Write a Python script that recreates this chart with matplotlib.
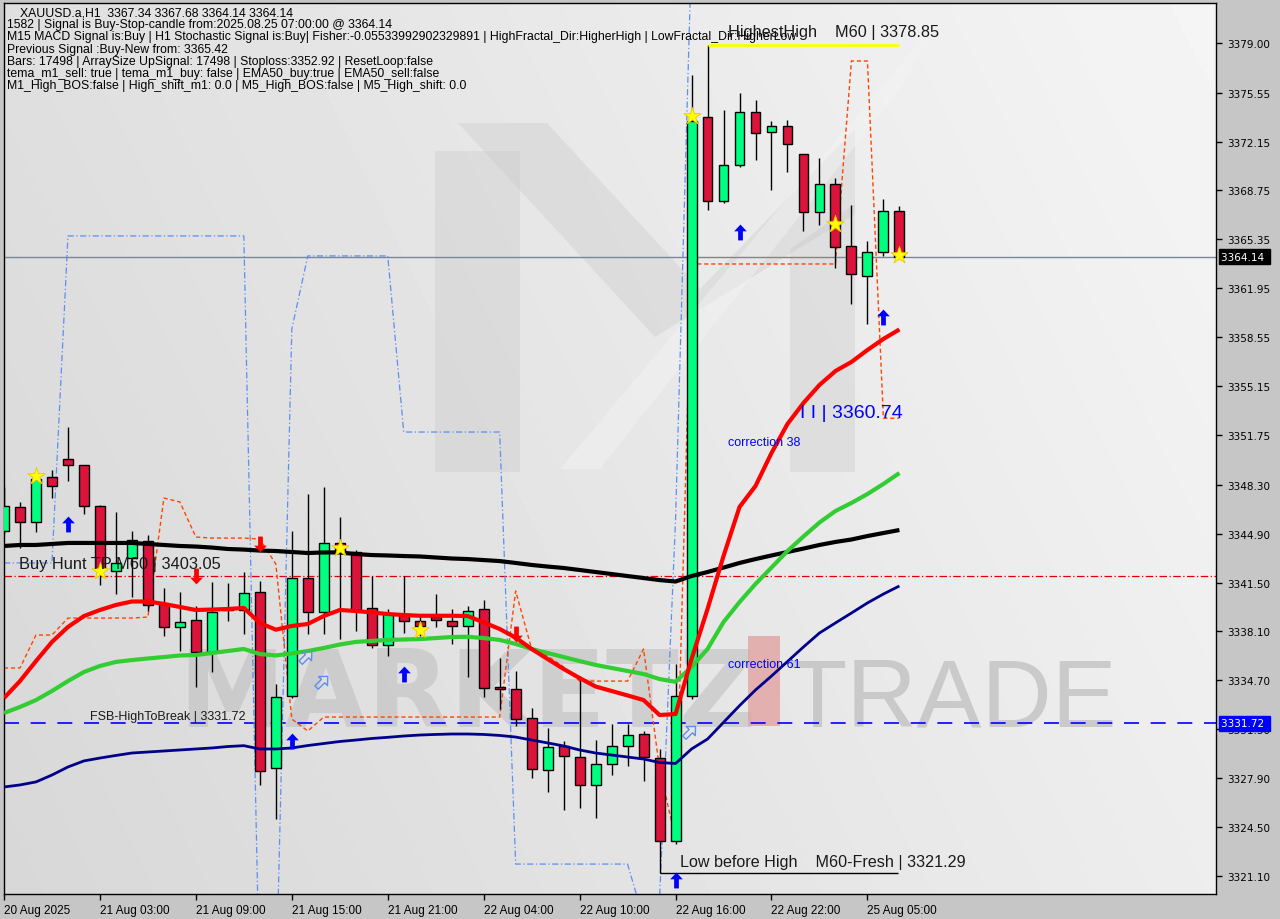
import matplotlib
matplotlib.use("Agg")
import matplotlib.pyplot as plt
from matplotlib.patches import Rectangle, Polygon
from matplotlib.transforms import blended_transform_factory
import numpy as np

# ---------------- data ----------------
opens = [3345.08, 3346.73, 3345.68, 3348.81, 3350.06, 3349.65, 3346.84, 3342.32, 3343.18, 3344.41,
         3340.01, 3338.40, 3338.89, 3336.65, 3339.62, 3339.59, 3340.82, 3328.58, 3333.59, 3341.79,
         3339.43, 3344.23, 3343.60, 3339.71, 3337.16, 3339.31, 3338.85, 3339.07, 3338.85, 3338.46,
         3339.66, 3334.22, 3334.10, 3332.06, 3328.47, 3330.16, 3329.35, 3327.43, 3328.89, 3330.16,
         3330.95, 3329.28, 3323.51, 3333.63, 3373.84, 3368.00, 3370.52, 3374.18, 3372.79, 3373.21,
         3371.26, 3367.23, 3369.18, 3364.87, 3362.78, 3364.45, 3367.34]
highs = [3348.14, 3347.10, 3349.00, 3349.32, 3352.29, 3349.67, 3346.90, 3346.42, 3345.06, 3344.80,
         3341.12, 3340.82, 3339.89, 3341.51, 3341.47, 3342.21, 3341.59, 3334.45, 3345.06, 3347.65,
         3348.12, 3346.03, 3343.76, 3341.97, 3339.66, 3341.97, 3339.20, 3340.70, 3339.66, 3339.89,
         3340.28, 3336.25, 3335.33, 3332.76, 3331.39, 3330.46, 3334.98, 3330.55, 3331.67, 3331.67,
         3331.16, 3329.93, 3335.84, 3376.78, 3378.85, 3374.34, 3375.52, 3375.04, 3373.60, 3373.65,
         3371.30, 3371.00, 3369.62, 3367.74, 3365.22, 3368.16, 3367.68]
lows = [3344.87, 3343.90, 3345.03, 3347.37, 3348.58, 3346.26, 3341.35, 3340.70, 3340.50, 3339.52,
        3337.80, 3336.76, 3334.22, 3335.30, 3338.85, 3337.92, 3327.45, 3325.06, 3333.50, 3337.90,
        3337.90, 3337.57, 3338.15, 3336.93, 3336.41, 3337.99, 3337.80, 3338.39, 3337.25, 3334.91,
        3333.52, 3332.71, 3331.51, 3327.89, 3326.92, 3325.71, 3325.81, 3325.11, 3328.14, 3328.77,
        3327.72, 3321.29, 3323.32, 3333.40, 3367.41, 3367.86, 3370.36, 3370.89, 3368.80, 3370.05,
        3365.95, 3366.37, 3363.34, 3360.86, 3359.47, 3364.22, 3364.14]
closes = [3346.82, 3345.68, 3348.69, 3348.19, 3349.65, 3346.84, 3342.37, 3342.84, 3344.48, 3339.94,
          3338.40, 3338.78, 3336.65, 3339.47, 3339.58, 3340.77, 3328.42, 3333.52, 3341.79, 3339.43,
          3344.23, 3343.60, 3339.61, 3337.16, 3339.31, 3338.85, 3338.50, 3338.88, 3338.46, 3339.50,
          3334.15, 3334.08, 3332.01, 3328.54, 3330.05, 3329.42, 3327.43, 3328.89, 3330.16, 3330.90,
          3329.35, 3323.51, 3333.63, 3373.60, 3368.00, 3370.52, 3374.18, 3372.72, 3373.21, 3371.96,
          3367.23, 3369.18, 3364.80, 3362.92, 3364.45, 3367.30, 3364.14]

ma_red = [3333.47, 3334.65, 3336.04, 3337.37, 3338.41, 3339.17, 3339.59, 3339.94, 3340.18, 3340.18,
          3340.01, 3339.80, 3339.59, 3339.62, 3339.66, 3339.73, 3338.69, 3338.22, 3338.48, 3338.62,
          3339.17, 3339.59, 3339.52, 3339.42, 3339.31, 3339.24, 3339.19, 3339.19, 3339.19, 3339.17,
          3338.73, 3338.27, 3337.67, 3336.88, 3336.18, 3335.49, 3334.86, 3334.27, 3333.96, 3333.65,
          3333.33, 3332.29, 3332.36, 3336.18, 3339.66, 3343.34, 3346.75, 3348.21, 3350.50, 3352.52,
          3353.98, 3355.23, 3356.20, 3356.83, 3357.66, 3358.43, 3359.09]
ma_green = [3332.43, 3332.85, 3333.33, 3333.96, 3334.65, 3335.28, 3335.70, 3335.98, 3336.11, 3336.22,
            3336.32, 3336.43, 3336.46, 3336.60, 3336.74, 3336.88, 3336.53, 3336.43, 3336.57, 3336.74,
            3336.95, 3337.19, 3337.37, 3337.44, 3337.51, 3337.54, 3337.57, 3337.64, 3337.71, 3337.73,
            3337.64, 3337.51, 3337.23, 3336.88, 3336.60, 3336.32, 3336.04, 3335.77, 3335.56, 3335.35,
            3335.14, 3334.79, 3334.60, 3335.63, 3336.88, 3338.75, 3340.14, 3341.40, 3342.54, 3343.69,
            3344.70, 3345.67, 3346.47, 3347.03, 3347.65, 3348.35, 3349.11]
ma_black = [3344.04, 3344.11, 3344.11, 3344.18, 3344.25, 3344.25, 3344.25, 3344.25, 3344.25, 3344.18,
            3344.11, 3344.04, 3344.00, 3343.93, 3343.83, 3343.79, 3343.72, 3343.69, 3343.62, 3343.55,
            3343.59, 3343.59, 3343.48, 3343.41, 3343.38, 3343.34, 3343.31, 3343.24, 3343.17, 3343.13,
            3343.06, 3342.99, 3342.86, 3342.72, 3342.61, 3342.51, 3342.37, 3342.23, 3342.09, 3341.95,
            3341.81, 3341.67, 3341.57, 3341.95, 3342.23, 3342.54, 3342.86, 3343.13, 3343.38, 3343.62,
            3343.86, 3344.11, 3344.32, 3344.49, 3344.73, 3344.94, 3345.15]
ma_navy = [3327.29, 3327.43, 3327.64, 3328.12, 3328.68, 3329.10, 3329.30, 3329.48, 3329.65, 3329.72,
           3329.79, 3329.86, 3329.93, 3330.00, 3330.10, 3330.16, 3329.93, 3329.93, 3330.00, 3330.17,
           3330.31, 3330.45, 3330.55, 3330.66, 3330.74, 3330.83, 3330.90, 3330.94, 3330.97, 3330.97,
           3330.94, 3330.87, 3330.76, 3330.55, 3330.35, 3330.14, 3329.86, 3329.65, 3329.51, 3329.37,
           3329.23, 3328.99, 3328.92, 3329.93, 3330.62, 3331.78, 3332.94, 3334.03, 3335.00, 3336.01,
           3337.02, 3337.99, 3338.69, 3339.38, 3340.08, 3340.70, 3341.26]
stop_line = [3335.56, 3335.56, 3337.85, 3337.85, 3339.03, 3339.03, 3339.03, 3339.03, 3339.03, 3339.10,
             3347.37, 3347.10, 3344.66, 3344.59, 3344.59, 3344.59, 3344.52, 3342.79, 3332.01, 3331.18,
             3332.15, 3332.15, 3332.15, 3332.15, 3332.15, 3332.15, 3332.15, 3332.15, 3332.15, 3332.15,
             3332.15, 3332.15, 3340.91, 3336.88, 3336.39, 3335.63, 3334.65, 3334.65, 3334.65, 3334.65,
             3336.88, 3328.54, 3323.67, 3363.64, 3363.64, 3363.64, 3363.64, 3363.64, 3363.64, 3363.64,
             3363.64, 3363.64, 3363.64, 3377.75, 3377.75, 3352.92, 3352.92]
band_line = [3342.86, 3342.86, 3342.86, 3342.86, 3365.59, 3365.59, 3365.59, 3365.59, 3365.59, 3365.59,
             3365.59, 3365.59, 3365.59, 3365.59, 3365.59, 3365.59, 3312.55, 3312.55, 3359.12, 3364.20,
             3364.20, 3364.20, 3364.20, 3364.20, 3364.20, 3351.96, 3351.96, 3351.96, 3351.96, 3351.96,
             3351.96, 3351.96, 3321.93, 3321.93, 3321.93, 3321.93, 3321.93, 3321.93, 3321.93, 3321.93,
             3318.11, 3319.50, 3345.91, 3385.53, 3385.53, 3385.53, 3385.53, 3385.53, 3385.53, 3385.53,
             3385.53, 3385.53, 3385.53, 3385.53, 3385.53, 3385.53, 3385.53]

star_bars = [2, 6, 21, 26, 43, 52, 56]
star_prices = [3348.90, 3342.30, 3343.90, 3338.20, 3373.93, 3366.42, 3364.26]
up_bars = [4, 18, 25, 42, 46, 55]
up_prices = [3345.57, 3330.48, 3335.14, 3320.82, 3365.86, 3359.96]
down_bars = [12, 16, 32]
down_prices = [3341.95, 3344.18, 3337.92]
hollow_bars = [18.9, 19.9, 42.9]
hollow_prices = [3336.32, 3334.59, 3331.11]

time_pos = [0, 6, 12, 18, 24, 30, 36, 42, 48, 54]
time_labels = ["20 Aug 2025", "21 Aug 03:00", "21 Aug 09:00", "21 Aug 15:00", "21 Aug 21:00",
               "22 Aug 04:00", "22 Aug 10:00", "22 Aug 16:00", "22 Aug 22:00", "25 Aug 05:00"]
price_ticks = [3379.00, 3375.55, 3372.15, 3368.75, 3365.35, 3361.95, 3358.55, 3355.15, 3351.75,
               3348.30, 3344.90, 3341.50, 3338.10, 3334.70, 3331.30, 3327.90, 3324.50, 3321.10]

current_price = 3364.14
fsb_level = 3331.72
tp_level = 3341.95
highest_high = 3378.85
low_before_high = 3321.29

header_lines = [
    "XAUUSD.a,H1  3367.34 3367.68 3364.14 3364.14",
    "1582 | Signal is Buy-Stop-candle from:2025.08.25 07:00:00 @ 3364.14",
    "M15 MACD Signal is:Buy | H1 Stochastic Signal is:Buy| Fisher:-0.05533992902329891 | HighFractal_Dir:HigherHigh | LowFractal_Dir:HigherLow",
    "Previous Signal :Buy-New from: 3365.42",
    "Bars: 17498 | ArraySize UpSignal: 17498 | Stoploss:3352.92 | ResetLoop:false",
    "tema_m1_sell: true | tema_m1_buy: false | EMA50_buy:true | EMA50_sell:false",
    "M1_High_BOS:false | High_shift_m1: 0.0 | M5_High_BOS:false | M5_High_shift: 0.0",
]

# ---------------- figure ----------------
W, H = 1280, 920
AX_L, AX_R, AX_T, AX_B = 4, 1216, 4, 895
FONT = "Liberation Sans"

fig = plt.figure(figsize=(12.8, 9.2), dpi=100)
fig.patch.set_facecolor("#C6C6C6")
ax = fig.add_axes([AX_L / W, 1 - AX_B / H, (AX_R - AX_L) / W, (AX_B - AX_T) / H])
ax.set_xlim(0.06, 75.8)
ax.set_ylim(3319.85, 3381.78)


def pa(x, y):
    """pixel -> axes fraction (decoration only)"""
    return ((x - AX_L) / (AX_R - AX_L), (AX_B - y) / (AX_B - AX_T))


# gradient background
gx, gy = np.meshgrid(np.linspace(0, 1, 200), np.linspace(0, 1, 200))
grad = 0.845 + 0.085 * gx + 0.03 * gy
ax.imshow(grad, cmap="gray", vmin=0, vmax=1, extent=[0, 1, 0, 1], origin="lower",
          transform=ax.transAxes, aspect="auto", zorder=0, interpolation="bilinear")

# watermark (logo + text)
wm = "#C8C8C8"
for poly in [
    [(435, 152), (520, 152), (520, 473), (435, 473)],
    [(458, 124), (547, 124), (700, 290), (655, 338)],
    [(655, 338), (700, 290), (855, 130), (855, 215)],
    [(790, 250), (855, 205), (855, 473), (790, 473)],
]:
    ax.add_patch(Polygon([pa(*p) for p in poly], closed=True, transform=ax.transAxes,
                         facecolor=wm, edgecolor="none", alpha=0.35, zorder=0.5))
ax.add_patch(Polygon([pa(*p) for p in [(560, 470), (945, 12), (900, 90), (600, 470)]],
                     closed=True, transform=ax.transAxes, facecolor="#F4F4F4", edgecolor="none",
                     alpha=0.45, zorder=0.6))
tx, ty = pa(178, 727)
ax.text(tx, ty, "MARKETZ", transform=ax.transAxes, fontsize=77, fontweight="bold",
        family="DejaVu Sans", color="#BDBDBD", alpha=0.55, ha="left", va="baseline", zorder=0.7)
rx0, ry0 = pa(748, 727)
rx1, ry1 = pa(780, 637)
ax.add_patch(Rectangle((rx0, ry0), rx1 - rx0, ry1 - ry0, transform=ax.transAxes,
                       facecolor="#E3A6A6", edgecolor="none", alpha=0.85, zorder=0.7))
tx, ty = pa(788, 727)
ax.text(tx, ty, "TRADE", transform=ax.transAxes, fontsize=70, fontweight="light",
        family="Liberation Sans", color="#B4B4B4", alpha=0.6, ha="left", va="baseline", zorder=0.7)

# horizontal levels
ax.axhline(current_price, color="#7A8794", lw=1.0, zorder=1.5)
ax.axhline(fsb_level, color="#0000FF", lw=1.2, dashes=(9, 7), zorder=1.5)
ax.axhline(tp_level, color="#E00000", lw=0.9, dashes=(6, 2, 1, 2), zorder=1.5)

# indicator step lines
xs = np.arange(len(opens))
ax.plot(xs, band_line, color="#5B8FF0", lw=0.9, dashes=(5, 2, 1, 2), zorder=2)
ax.plot(xs, stop_line, color="#FF4500", lw=1.0, dashes=(3, 2), zorder=2)

# candles
up_col, dn_col = "#00FF7F", "#DC143C"
for i, (o, h, l, c) in enumerate(zip(opens, highs, lows, closes)):
    ax.vlines(i, l, h, color="black", lw=1.0, zorder=3)
    bot = min(o, c)
    hgt = max(abs(c - o), 0.06)
    ax.add_patch(Rectangle((i - 0.31, bot), 0.62, hgt, facecolor=up_col if c >= o else dn_col,
                           edgecolor="black", lw=1.0, zorder=4))

# moving averages
ax.plot(xs, ma_navy, color="#00008B", lw=2.0, zorder=5, solid_capstyle="butt")
ax.plot(xs, ma_black, color="black", lw=3.0, zorder=5, solid_capstyle="butt")
ax.plot(xs, ma_green, color="#32CD32", lw=3.0, zorder=5, solid_capstyle="butt")
ax.plot(xs, ma_red, color="#FF0000", lw=3.0, zorder=5, solid_capstyle="butt")

# highest high / low before high lines
ax.hlines(highest_high, 44, 56, color="#FFFF00", lw=2.0, zorder=6)
ax.hlines(low_before_high, 41, 55.9, color="black", lw=1.0, zorder=6)

# markers
up_arrow = [(0, 1), (0.8, 0.15), (0.3, 0.15), (0.3, -1), (-0.3, -1), (-0.3, 0.15), (-0.8, 0.15), (0, 1)]
down_arrow = [(x, -y) for x, y in up_arrow]
r2 = 2 ** 0.5
diag_arrow = [((x + y) / r2, (y - x) / r2) for x, y in up_arrow]

ax.scatter(star_bars, star_prices, marker="*", s=170, color="#FFFF00", edgecolors="#E8C800",
           linewidths=0.6, zorder=7)
ax.scatter(up_bars, up_prices, marker=up_arrow, s=130, color="#0000FF", linewidths=0, zorder=7)
ax.scatter(down_bars, down_prices, marker=down_arrow, s=130, color="#FF0000", linewidths=0, zorder=7)
ax.scatter(hollow_bars, hollow_prices, marker=diag_arrow, s=110, facecolors="none",
           edgecolors="#5B8FF0", linewidths=1.0, zorder=7)

# annotations
ax.text(0.94, 3342.79, "Buy Hunt TP M60 | 3403.05", fontsize=11.8, family=FONT, color="#1A1A1A",
        ha="left", va="center", zorder=8)
ax.text(5.35, 3332.22, "FSB-HighToBreak | 3331.72", fontsize=9, family=FONT, color="#1A1A1A",
        ha="left", va="center", zorder=8)
ax.text(45.25, 3379.3, "HighestHigh    M60 | 3378.85", fontsize=11.7, family=FONT, color="#1A1A1A",
        ha="left", va="bottom", zorder=8)
ax.text(42.25, 3322.14, "Low before High    M60-Fresh | 3321.29", fontsize=11.6, family=FONT,
        color="#1A1A1A", ha="left", va="center", zorder=8)
ax.text(49.8, 3353.35, "I I | 3360.74", fontsize=14, family=FONT, color="#0000FF",
        ha="left", va="center", zorder=8)
ax.text(45.3, 3351.27, "correction 38", fontsize=9, family=FONT, color="#0000FF",
        ha="left", va="center", zorder=8)
ax.text(45.3, 3335.84, "correction 61", fontsize=9, family=FONT, color="#0000FF",
        ha="left", va="center", zorder=8)

# header block
for k, line in enumerate(header_lines):
    x0 = 20 if k == 0 else 7
    fig.text(x0 / W, 1 - (13 + 12.2 * k) / H, line, fontsize=8.8, family=FONT, color="black",
             ha="left", va="center", zorder=9)

# axes styling
for s in ax.spines.values():
    s.set_color("black")
    s.set_linewidth(1.0)
ax.yaxis.tick_right()
ax.set_yticks(price_ticks)
ax.set_yticklabels([f"{v:.2f}" for v in price_ticks], fontsize=7.5, family="DejaVu Sans",
                   color="black")
ax.tick_params(axis="y", direction="out", length=4, pad=4, width=1)
ax.set_xticks(time_pos)
ax.set_xticklabels(time_labels, fontsize=8.5, family=FONT, color="black")
for lab in ax.get_xticklabels():
    lab.set_ha("left")
ax.tick_params(axis="x", direction="out", length=4, pad=3, width=1)

# price boxes on the axis
trans = blended_transform_factory(ax.transAxes, ax.transData)
ax.text(1.0045, current_price, "3364.14 ", transform=trans, fontsize=7.5, family="DejaVu Sans",
        color="white", ha="left", va="center", zorder=10, clip_on=False,
        bbox=dict(boxstyle="square,pad=0.25", facecolor="black", edgecolor="black"))
ax.text(1.0045, fsb_level, "3331.72 ", transform=trans, fontsize=7.5, family="DejaVu Sans",
        color="white", ha="left", va="center", zorder=10, clip_on=False,
        bbox=dict(boxstyle="square,pad=0.25", facecolor="#0000FF", edgecolor="#0000FF"))

fig.savefig("out.png", dpi=100, facecolor=fig.get_facecolor())
